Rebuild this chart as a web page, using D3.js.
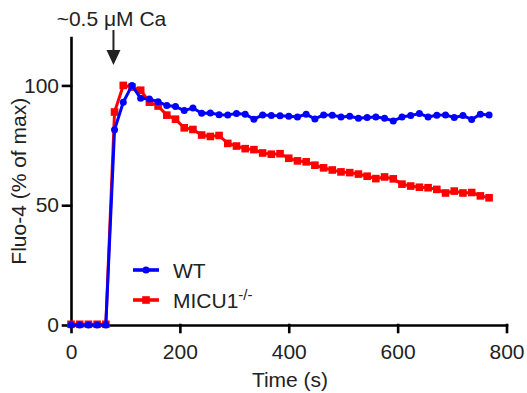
<!DOCTYPE html>
<html>
<head>
<meta charset="utf-8">
<script src="https://cdn.jsdelivr.net/npm/d3@7"></script>
<style>
body { margin: 0; background: #fff; }
svg text { font-family: "Liberation Sans", Arial, sans-serif; fill: #222; }
</style>
</head>
<body>
<svg id="chart" width="527" height="393"></svg>
<script>
// sampling times (s)
var timeSec = [0, 16, 32, 48, 64, 80, 96, 112, 128, 144, 160, 176, 192, 208, 224, 240,
    256, 272, 288, 304, 320, 336, 352, 368, 384, 400, 416, 432, 448, 464, 480, 496,
    512, 528, 544, 560, 576, 592, 608, 624, 640, 656, 672, 688, 704, 720, 736, 752, 768];

// Fluo-4, % of max
var wtValues = [0, 0, 0, 0, 0, 81.5, 93, 100, 94.6, 94.3, 93.2, 91.6, 91.2, 89.5, 90.6, 88.4,
    88.5, 87.8, 87.7, 88.3, 88, 85.9, 87.7, 87.4, 87.3, 87.1, 86.8, 88, 86, 87.7, 87.6, 86.8,
    87.1, 86.3, 86.6, 86.8, 86.3, 85.2, 86.8, 87.4, 88.3, 86.8, 87.6, 87.7, 86.6, 87.4, 85.8, 88, 87.7];

var micuValues = [0.3, 0.3, 0.3, 0.3, 0.3, 88.9, 100, 99.3, 98, 93, 91.4, 87.6, 85.9, 82.3, 81.6, 79.3,
    78.7, 79.1, 75.8, 74.7, 73.6, 73.2, 71.8, 71.3, 71.5, 69.6, 68.5, 68.1, 66.7, 65.6, 64.7, 63.9,
    63.6, 63, 62.1, 61.1, 61.8, 61, 58.8, 58, 57.5, 57.3, 56.6, 55.1, 55.9, 55.1, 55.3, 53.9, 53.1];

var xTicks = [0, 200, 400, 600, 800];
var yTicks = [0, 50, 100];
var caAddedAt = 78;

var svg = d3.select("#chart"),
    x = d3.scaleLinear().domain([0, 800]).range([71, 506.5]),
    y = d3.scaleLinear().domain([0, 120]).range([325, 37.5]);

var xAxis = svg.append("g")
    .attr("transform", "translate(0," + y(0) + ")")
    .call(d3.axisBottom(x).tickValues(xTicks).tickSize(7).tickSizeOuter(0).tickPadding(12));
var yAxis = svg.append("g")
    .attr("transform", "translate(" + x(0) + ",0)")
    .call(d3.axisLeft(y).tickValues(yTicks).tickSize(8).tickSizeOuter(0).tickPadding(4));

[xAxis, yAxis].forEach(function (g) {
    g.selectAll("path, line")
        .attr("stroke", "#000")
        .attr("stroke-width", 2.6)
        .attr("stroke-linecap", "square");
    g.selectAll("text")
        .style("font-size", "21px")
        .attr("fill", "#222");
});

svg.append("text")
    .attr("x", 290)
    .attr("y", 387)
    .attr("text-anchor", "middle")
    .style("font-size", "21px")
    .text("Time (s)");

svg.append("text")
    .attr("transform", "translate(26," + y(60) + ") rotate(-90)")
    .attr("text-anchor", "middle")
    .style("font-size", "21px")
    .text("Fluo-4 (% of max)");

// Ca addition arrow
svg.append("text")
    .attr("x", x(caAddedAt) - 2)
    .attr("y", 25.5)
    .attr("text-anchor", "middle")
    .style("font-size", "21px")
    .text("~0.5 \u03BCM Ca");
svg.append("line")
    .attr("x1", x(caAddedAt)).attr("x2", x(caAddedAt))
    .attr("y1", 30).attr("y2", 56)
    .attr("stroke", "#222")
    .attr("stroke-width", 2);
svg.append("path")
    .attr("d", "M" + (x(caAddedAt) - 7) + ",50L" + (x(caAddedAt) + 7) + ",50L" + x(caAddedAt) + ",65Z")
    .attr("fill", "#222");

var series = [
    { name: "MICU1", values: micuValues, color: "#ff0000", marker: "square" },
    { name: "WT", values: wtValues, color: "#0000ff", marker: "circle" }
];

var line = d3.line()
    .x(function (d) { return x(d[0]); })
    .y(function (d) { return y(d[1]); });

series.forEach(function (s) {
    var pts = timeSec.map(function (t, i) { return [t, s.values[i]]; }),
        g = svg.append("g");

    g.append("path")
        .datum(pts)
        .attr("d", line)
        .attr("fill", "none")
        .attr("stroke", s.color)
        .attr("stroke-width", 3)
        .attr("stroke-linejoin", "round");

    if (s.marker === "square") {
        g.selectAll("rect")
            .data(pts)
          .enter().append("rect")
            .attr("x", function (d) { return x(d[0]) - 3.8; })
            .attr("y", function (d) { return y(d[1]) - 3.8; })
            .attr("width", 7.6)
            .attr("height", 7.6)
            .attr("fill", s.color);
    } else {
        g.selectAll("circle")
            .data(pts)
          .enter().append("circle")
            .attr("cx", function (d) { return x(d[0]); })
            .attr("cy", function (d) { return y(d[1]); })
            .attr("r", 3.5)
            .attr("fill", s.color);
    }
});

// legend
var legend = svg.append("g");
legend.append("line")
    .attr("x1", 133).attr("x2", 159).attr("y1", 270).attr("y2", 270)
    .attr("stroke", "#0000ff").attr("stroke-width", 3.6);
legend.append("circle")
    .attr("cx", 146).attr("cy", 270).attr("r", 3.6)
    .attr("fill", "#0000ff");
legend.append("text")
    .attr("x", 173).attr("y", 277.5)
    .style("font-size", "21px")
    .text("WT");

legend.append("line")
    .attr("x1", 133).attr("x2", 159).attr("y1", 300).attr("y2", 300)
    .attr("stroke", "#ff0000").attr("stroke-width", 3.6);
legend.append("rect")
    .attr("x", 142.2).attr("y", 296.2).attr("width", 7.6).attr("height", 7.6)
    .attr("fill", "#ff0000");
var micuLabel = legend.append("text")
    .attr("x", 173).attr("y", 307.5)
    .style("font-size", "21px");
micuLabel.append("tspan").text("MICU1");
micuLabel.append("tspan")
    .attr("dy", -8)
    .style("font-size", "15px")
    .text("-/-");
</script>
</body>
</html>
